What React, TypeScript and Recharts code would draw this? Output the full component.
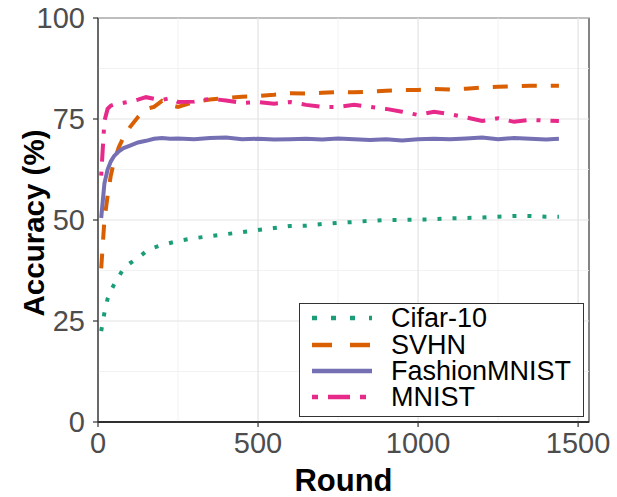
import {
  LineChart,
  Line,
  XAxis,
  YAxis,
  Legend,
  ReferenceLine,
  ReferenceArea,
} from "recharts";

const rounds = [
  10, 20, 30, 40, 50, 65, 80, 100, 125, 150, 175, 200, 225, 250, 300, 350, 400,
  450, 500, 550, 600, 650, 700, 750, 800, 850, 900, 950, 1000, 1050, 1100, 1150,
  1200, 1250, 1300, 1350, 1400, 1440,
];

const cifar10 = [
  22.5, 27, 30.5, 32.5, 34, 36, 38, 39.3, 40.6, 42.2, 43.2, 43.8, 44.3, 44.8,
  45.5, 46, 46.5, 47, 47.5, 48, 48.5, 48.6, 49, 49.3, 49.5, 49.8, 50, 50, 50.1,
  50.2, 50.4, 50.5, 50.6, 50.8, 51, 51, 50.8, 50.8,
];

const svhn = [
  38, 50, 56, 61, 64.5, 68, 70.5, 73, 75.5, 77.5, 78, 79.5, 78.5, 78, 79.2, 79.8,
  80.2, 80.5, 80.7, 81, 81.4, 81.3, 81.5, 81.7, 81.6, 81.8, 82, 82.2, 82.2, 82.4,
  82.3, 82.5, 82.8, 83, 83.1, 83.2, 83.2, 83.2,
];

const fashionMnist = [
  50.5, 59, 62.5, 64.5, 65.8, 67, 67.8, 68.4, 69.2, 69.6, 70.1, 70.3, 70.1, 70.2,
  70, 70.3, 70.4, 70, 70.1, 69.9, 70, 70.1, 69.9, 70.2, 70, 69.8, 70, 69.7, 70,
  70.1, 70, 70.2, 70.4, 70, 70.3, 70.1, 69.9, 70.1,
];

const mnist = [
  61, 74.5, 77.5, 78.3, 78.6, 78.8, 79, 79.3, 79.8, 80.4, 80, 79.7, 80.2, 79.2,
  79.3, 80, 79.6, 79, 79.2, 78.8, 79.2, 78.5, 78, 78, 78.5, 78, 77.5, 76.8, 76,
  76.8, 76.2, 75.4, 74.5, 75.2, 74.3, 74.8, 74.6, 74.5,
];

const xTicks = [0, 500, 1000, 1500];
const xMinor = [250, 750, 1250];
const yTicks = [0, 25, 50, 75, 100];
const yMinor = [12.5, 37.5, 62.5, 87.5];

const data = rounds.map((round, i) => ({
  round,
  cifar10: cifar10[i],
  svhn: svhn[i],
  fashionMnist: fashionMnist[i],
  mnist: mnist[i],
}));

const FONT = '"Liberation Sans", Arial, sans-serif';
const X_MAX = 1534;

const series = [
  { key: "cifar10", name: "Cifar-10", color: "#1b9e77", dash: "4 11", legendDash: "5 14" },
  { key: "svhn", name: "SVHN", color: "#d95f02", dash: "15 14", legendDash: "20 18" },
  { key: "fashionMnist", name: "FashionMNIST", color: "#7570b3", dash: undefined, legendDash: undefined },
  { key: "mnist", name: "MNIST", color: "#e7298a", dash: "4 10 18 10", legendDash: "6 10 22 10" },
];

function renderLegend() {
  return (
    <div
      style={{
        boxSizing: "border-box",
        width: 285,
        height: 114,
        border: "1.5px solid #333",
        background: "#fff",
        paddingTop: 1,
        fontFamily: FONT,
      }}
    >
      {series.map((s) => (
        <div
          key={s.key}
          style={{ display: "flex", alignItems: "center", height: 26.4 }}
        >
          <svg width={91} height={20} style={{ display: "block", flex: "none" }}>
            <line
              x1={12}
              x2={72}
              y1={10}
              y2={10}
              stroke={s.color}
              strokeWidth={4.5}
              strokeDasharray={s.legendDash}
            />
          </svg>
          <span
            style={{
              fontSize: 27,
              color: "#000",
              lineHeight: "26px",
              whiteSpace: "nowrap",
            }}
          >
            {s.name}
          </span>
        </div>
      ))}
    </div>
  );
}

function YLabel(props: any) {
  const vb = props.viewBox || { x: 0, y: 18, width: 98, height: 404 };
  const cx = vb.x + 33;
  const cy = vb.y + vb.height / 2 + 3;
  return (
    <text
      x={cx}
      y={cy}
      transform={`rotate(-90 ${cx} ${cy})`}
      textAnchor="middle"
      dominantBaseline="central"
      fontFamily={FONT}
      fontWeight="bold"
      fontSize={29.5}
      fill="#000"
    >
      Accuracy (%)
    </text>
  );
}

export default function App() {
  return (
    <div
      style={{
        position: "fixed",
        left: 0,
        top: 0,
        width: 617,
        height: 497,
        background: "#fff",
      }}
    >
      <LineChart
        width={617}
        height={497}
        data={data}
        margin={{ top: 18, right: 28, left: 0, bottom: 0 }}
      >
        {xMinor.map((v) => (
          <ReferenceLine key={`xm${v}`} x={v} stroke="#efefef" strokeWidth={0.8} />
        ))}
        {yMinor.map((v) => (
          <ReferenceLine key={`ym${v}`} y={v} stroke="#efefef" strokeWidth={0.8} />
        ))}
        {xTicks.map((v) => (
          <ReferenceLine key={`xM${v}`} x={v} stroke="#e3e3e3" strokeWidth={1.2} />
        ))}
        {yTicks.map((v) => (
          <ReferenceLine key={`yM${v}`} y={v} stroke="#e3e3e3" strokeWidth={1.2} />
        ))}
        <XAxis
          dataKey="round"
          type="number"
          domain={[0, X_MAX]}
          ticks={xTicks}
          allowDataOverflow
          height={75}
          tickSize={5}
          tickMargin={5}
          axisLine={{ stroke: "#000", strokeWidth: 1.5 }}
          tickLine={{ stroke: "#333", strokeWidth: 1.2 }}
          tick={{ fontSize: 29, fill: "#4d4d4d", fontFamily: FONT }}
          label={{
            value: "Round",
            position: "insideBottom",
            offset: 6,
            fontSize: 31,
            fontWeight: "bold",
            fill: "#000",
            fontFamily: FONT,
          }}
        />
        <YAxis
          type="number"
          domain={[0, 100]}
          ticks={yTicks}
          allowDataOverflow
          width={98}
          tickSize={5}
          tickMargin={8}
          axisLine={{ stroke: "#333", strokeWidth: 1.2 }}
          tickLine={{ stroke: "#333", strokeWidth: 1.2 }}
          tick={{ fontSize: 29, fill: "#4d4d4d", fontFamily: FONT }}
          label={{ content: (p: any) => <YLabel {...p} /> }}
        />
        {series.map((s) => (
          <Line
            key={s.key}
            dataKey={s.key}
            name={s.name}
            type="linear"
            stroke={s.color}
            strokeWidth={4}
            strokeDasharray={s.dash}
            dot={false}
            activeDot={false}
            isAnimationActive={false}
          />
        ))}
        <ReferenceArea
          x1={0}
          x2={X_MAX}
          y1={0}
          y2={100}
          fill="none"
          fillOpacity={0}
          stroke="#333"
          strokeWidth={1.2}
        />
        <Legend
          layout="horizontal"
          verticalAlign="middle"
          align="center"
          content={renderLegend}
          wrapperStyle={{ position: "absolute", left: 299, top: 303, width: 285, height: 114 }}
        />
      </LineChart>
    </div>
  );
}
